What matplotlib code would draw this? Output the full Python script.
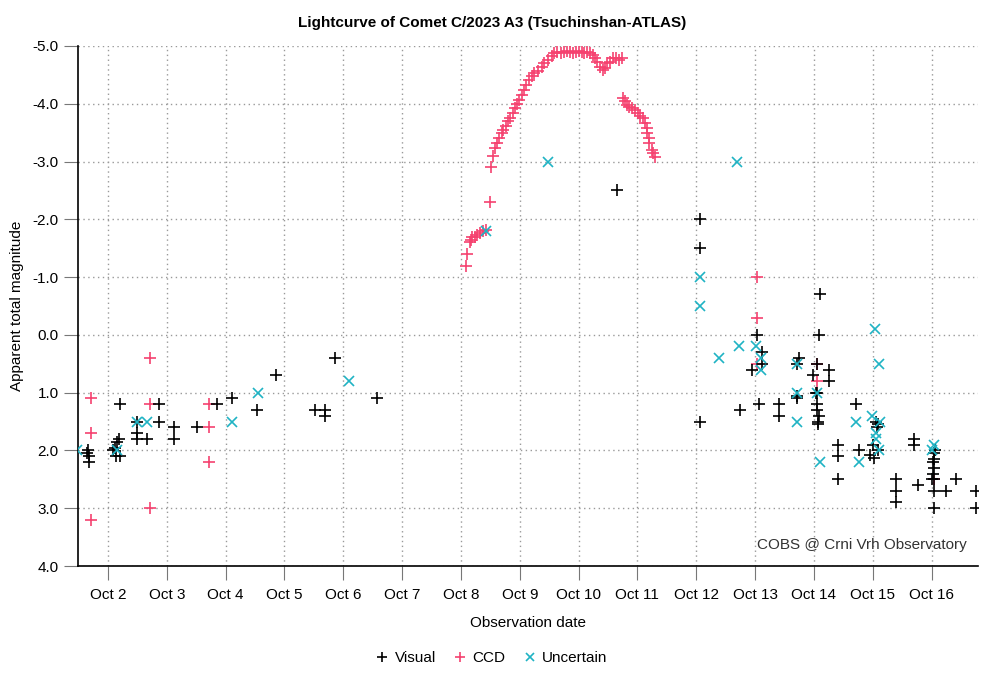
import matplotlib
matplotlib.use("Agg")
import matplotlib.pyplot as plt
from matplotlib.ticker import FormatStrFormatter

plt.rcParams['font.family'] = ['Liberation Sans', 'DejaVu Sans']

# day of October 2023, magnitude
vis_day = [1.64, 1.66, 1.68, 1.68, 2.08, 2.12, 2.15, 2.19, 2.14, 2.20, 2.20,
           2.49, 2.49, 2.49, 2.67, 2.86, 2.86, 3.13, 3.13, 3.51, 3.85, 4.10,
           4.53, 4.86, 5.52, 5.69, 5.69, 5.86, 6.57, 10.66,
           12.07, 12.06, 12.07, 12.74, 12.94, 13.04, 13.11, 13.11, 13.07,
           13.41, 13.41, 13.75, 13.71, 13.71, 13.71,
           14.10, 14.09, 14.05, 13.99, 14.26, 14.26, 14.05, 14.03, 14.05,
           14.05, 14.08, 14.07, 14.07, 14.41, 14.41, 14.41, 14.71, 14.77,
           15.06, 15.09, 15.07, 15.00, 14.95, 15.02, 15.09,
           15.40, 15.40, 15.40, 15.71, 15.71, 15.77,
           16.06, 16.04, 16.05, 16.03, 16.05, 16.03, 16.00, 16.05, 16.05,
           16.05, 16.25, 16.41, 16.76, 16.76]
vis_mag = [2.05, 2.0, 2.1, 2.2, 2.0, 1.95, 1.85, 1.8, 2.1, 2.1, 1.2,
           1.5, 1.7, 1.8, 1.8, 1.2, 1.5, 1.6, 1.8, 1.6, 1.2, 1.1,
           1.3, 0.7, 1.3, 1.3, 1.4, 0.4, 1.1, -2.5,
           -2.0, -1.5, 1.5, 1.3, 0.6, 0.0, 0.3, 0.5, 1.2,
           1.2, 1.4, 0.4, 0.5, 1.05, 1.1,
           -0.7, 0.0, 0.5, 0.7, 0.6, 0.8, 1.0, 1.0, 1.2,
           1.3, 1.4, 1.5, 1.55, 1.9, 2.1, 2.5, 1.2, 2.0,
           1.5, 1.55, 1.6, 1.9, 2.07, 2.13, 2.0,
           2.5, 2.7, 2.9, 1.8, 1.9, 2.6,
           2.0, 2.05, 2.15, 2.2, 2.3, 2.4, 2.5, 2.5, 2.7,
           3.0, 2.7, 2.5, 2.7, 3.0]

ccd_day = [1.71, 1.71, 1.71, 2.71, 2.71, 2.71, 3.72, 3.72, 3.72,
           8.08, 8.11, 8.15, 8.17, 8.19, 8.24, 8.27, 8.32, 8.38, 8.43,
           8.49, 8.51, 8.54, 8.58, 8.61, 8.65, 8.69, 8.72, 8.76, 8.80,
           8.83, 8.88, 8.92, 8.96, 8.99, 9.03, 9.07, 9.11, 9.16, 9.20,
           9.25, 9.31, 9.37, 9.42, 9.48, 9.54, 9.59,
           9.64, 9.70, 9.75, 9.80, 9.85, 9.90, 9.95, 10.00, 10.05, 10.10,
           10.15, 10.20, 10.24,
           10.28, 10.31, 10.37, 10.41, 10.45, 10.49, 10.53, 10.58, 10.64,
           10.69, 10.73,
           10.75, 10.79, 10.82, 10.86, 10.90, 10.96, 11.01, 11.04, 11.10,
           11.13, 11.16, 11.17, 11.19, 11.20, 11.24, 11.27, 11.30,
           13.04, 13.03, 13.04, 14.05, 14.05, 16.05]
ccd_mag = [1.1, 1.7, 3.2, 0.4, 1.2, 3.0, 1.2, 1.6, 2.2,
           -1.2, -1.4, -1.6, -1.65, -1.7, -1.7, -1.73, -1.76, -1.8, -1.82,
           -2.3, -2.9, -3.1, -3.23, -3.32, -3.4, -3.49, -3.55, -3.62, -3.7,
           -3.75, -3.84, -3.93, -4.0, -4.07, -4.15, -4.24, -4.33, -4.41, -4.48,
           -4.54, -4.56, -4.64, -4.7, -4.76, -4.82, -4.87,
           -4.9, -4.88, -4.9, -4.92, -4.9, -4.88, -4.9, -4.92, -4.9, -4.88,
           -4.9, -4.88, -4.85,
           -4.8, -4.73, -4.64, -4.58, -4.62, -4.7, -4.73, -4.79, -4.79,
           -4.75, -4.79,
           -4.1, -4.04, -3.98, -3.94, -3.92, -3.89, -3.84, -3.78, -3.75,
           -3.66, -3.58, -3.49, -3.4, -3.32, -3.2, -3.14, -3.08,
           -1.0, -0.3, 0.5, 0.5, 0.8, 2.5]

unc_day = [1.48, 2.16, 2.49, 2.67, 4.10, 4.55, 6.10, 8.43, 9.48,
           12.07, 12.06, 12.39, 12.69, 12.73, 13.02, 13.10, 13.10,
           13.71, 13.71, 13.71, 14.05, 14.10, 14.71, 14.76,
           15.04, 15.11, 14.98, 15.13, 15.06, 15.06, 15.10, 16.04, 16.00]
unc_mag = [2.0, 2.0, 1.5, 1.5, 1.5, 1.0, 0.8, -1.8, -3.0,
           -1.0, -0.5, 0.4, -3.0, 0.2, 0.2, 0.4, 0.6,
           0.5, 1.0, 1.5, 1.0, 2.2, 1.5, 2.2,
           -0.1, 0.5, 1.4, 1.5, 1.7, 1.8, 2.0, 1.9, 2.0]

tick_days = list(range(2, 17))
tick_labels = ["Oct %d" % d for d in tick_days]

fig = plt.figure(figsize=(9.84, 6.8), dpi=100)
ax = fig.add_axes([0.0793, 0.1676, 0.9146, 0.7648])

ax.plot(vis_day, vis_mag, '+', color='black', ms=9, mew=1.2, label='Visual', zorder=3)
ax.plot(ccd_day, ccd_mag, '+', color='#f5426f', ms=9, mew=1.2, label='CCD', zorder=2)
ax.plot(unc_day, unc_mag, 'x', color='#1fb3c4', ms=6.5, mew=1.2, label='Uncertain', zorder=4)

ax.set_xlim(1.49, 16.79)
ax.set_ylim(4.0, -5.0)
ax.set_xticks(tick_days)
ax.set_xticklabels(tick_labels)
ax.set_yticks([-5, -4, -3, -2, -1, 0, 1, 2, 3, 4])
ax.yaxis.set_major_formatter(FormatStrFormatter('%.1f'))
ax.tick_params(axis='both', length=10, color='#777777', labelsize=11, pad=4)
ax.tick_params(axis='x', pad=6)
ax.grid(True, linestyle=(0, (1, 2.5)), color='#999999', linewidth=1)
ax.set_axisbelow(True)
for s in ['top', 'right']:
    ax.spines[s].set_visible(False)
for s in ['left', 'bottom']:
    ax.spines[s].set_color('black')
    ax.spines[s].set_linewidth(1.2)

ax.set_xlabel('Observation date', fontsize=11, labelpad=10)
ax.set_ylabel('Apparent total magnitude', fontsize=11, labelpad=6)
fig.text(0.5, 0.966, 'Lightcurve of Comet C/2023 A3 (Tsuchinshan-ATLAS)',
         ha='center', va='center', fontsize=11, fontweight='bold')
ax.text(0.987, 0.04, 'COBS @ Crni Vrh Observatory', transform=ax.transAxes,
        ha='right', va='center', fontsize=11, color='#333333')

fig.legend(loc='center', bbox_to_anchor=(0.5, 0.032), ncol=3, frameon=False,
           fontsize=11, markerscale=0.85, handlelength=0.8, handletextpad=0.4,
           columnspacing=1.2)

fig.savefig('out.png', dpi=100)
